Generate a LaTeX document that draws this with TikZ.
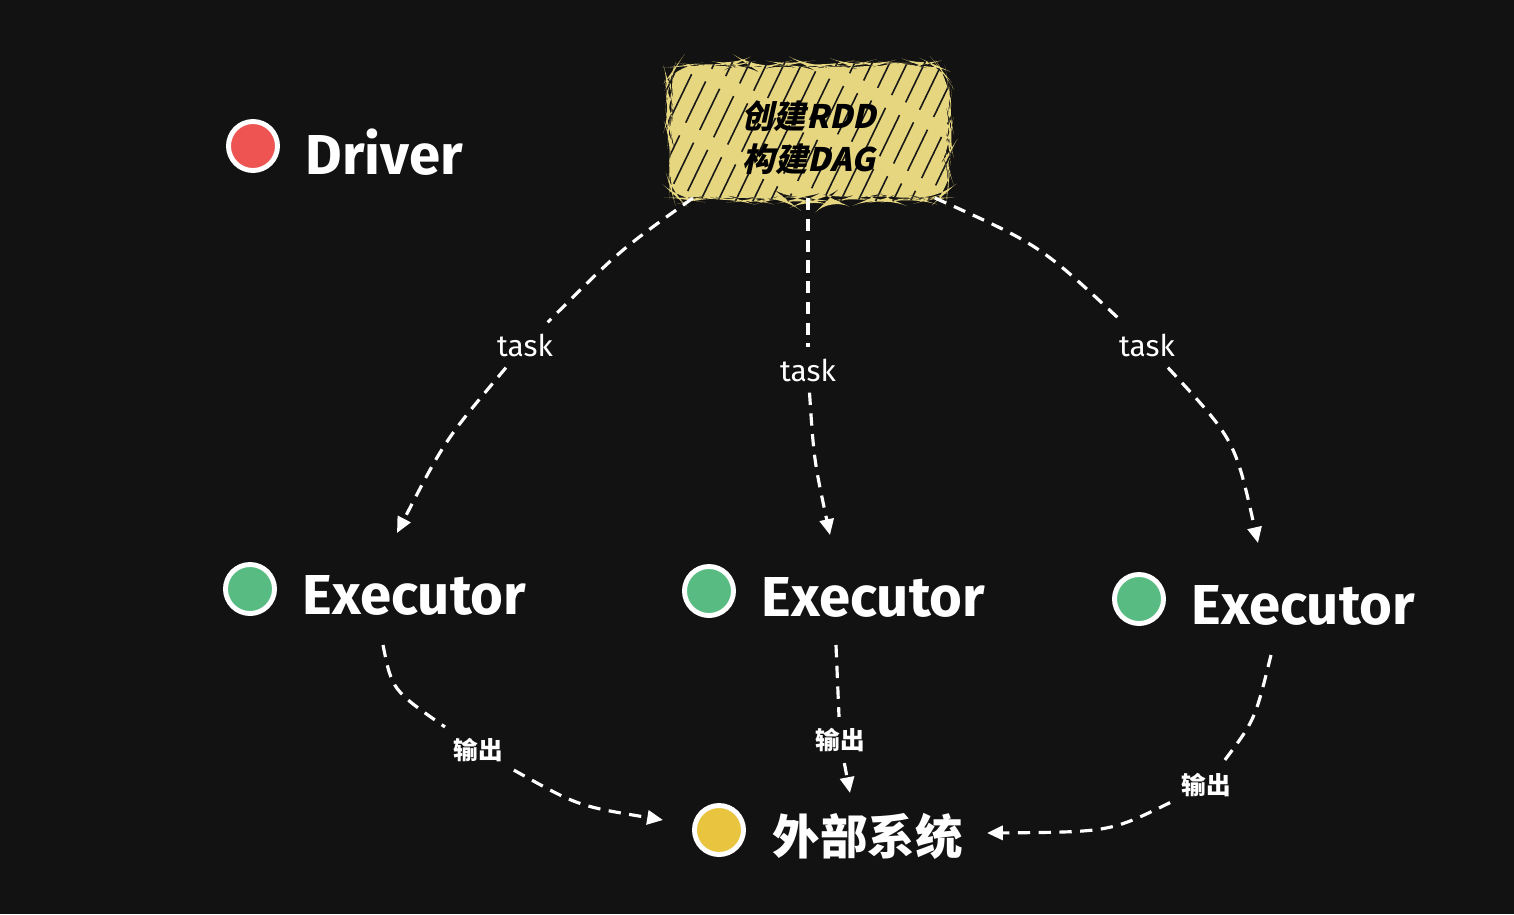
\documentclass[tikz,border=0pt]{standalone}
\usepackage{fontspec}
\setmainfont{Fira Sans}
\newfontfamily\cjk{Noto Sans CJK SC}
\newfontfamily\cjkslant{Noto Sans CJK SC}[FakeSlant=0.22]
\usetikzlibrary{arrows.meta, positioning, decorations.pathmorphing}
\definecolor{bgdark}{HTML}{121212}
\definecolor{drvred}{HTML}{EE5552}
\definecolor{exgreen}{HTML}{58BC82}
\definecolor{extyellow}{HTML}{E8C43F}
\definecolor{boxyellow}{HTML}{E6D680}

\begin{document}
\begin{tikzpicture}[x=0.01cm, y=-0.01cm,
    dot/.style={circle, draw=white, line width=1.4pt, minimum size=0.49cm, inner sep=0pt},
    role/.style={anchor=west, inner sep=0pt, yshift=-0.06cm, text=white, font=\fontsize{16}{19}\selectfont\bfseries},
    dagbox/.style={rectangle, rounded corners=6pt, fill=boxyellow, minimum width=2.78cm, minimum height=1.35cm,
        align=center, text=black, font=\cjkslant\bfseries\fontsize{9.2}{12}\selectfont,
        decorate, decoration={random steps, segment length=2pt, amplitude=0.6pt},
        path picture={\foreach \k in {0,...,20}
            \draw[black!90, line width=0.45pt, dash pattern=on 13pt off 4pt, dash phase=\k*2.3pt]
                ([xshift=\k*1.75mm-0.9cm]path picture bounding box.south west) -- ++(0.7cm,1.45cm);}},
    tag/.style={text=white, inner sep=3pt, font=\fontsize{8.5}{10}\selectfont},
    outtag/.style={tag, font=\cjk\bfseries\fontsize{7}{9}\selectfont},
    flow/.style={white, line width=0.9pt, dash pattern=on 3.5pt off 2.4pt},
    arr/.style={flow, -{Triangle[length=4.5pt, width=4pt]}}]
    \useasboundingbox[fill=bgdark] (0,0) rectangle (1514,914);

    % driver side
    \node [dot, fill=drvred] (drv) at (253,146) {};
    \node [role, right=0.25cm of drv] (drvtxt) {Driver};
    \node [dagbox] (dag) at (809,132) {\rule{0pt}{0.39cm}创建RDD\\构建DAG};

    % executors
    \node [dot, fill=exgreen] (ex1) at (250,589) {};
    \node [role, right=0.25cm of ex1] (ex1txt) {Executor};
    \node [dot, fill=exgreen] (ex2) at (709,591) {};
    \node [role, right=0.25cm of ex2] (ex2txt) {Executor};
    \node [dot, fill=exgreen] (ex3) at (1139,599) {};
    \node [role, right=0.25cm of ex3] (ex3txt) {Executor};

    % external system
    \node [dot, fill=extyellow] (ext) at (719,830) {};
    \node [role, right=0.26cm of ext, font=\cjk\bfseries\fontsize{13.5}{16}\selectfont] (exttxt) {外部系统};

    % labels
    \node [tag] (t1) at (525,345) {task};
    \node [tag] (t2) at (808,370) {task};
    \node [tag] (t3) at (1147,345) {task};
    \node [outtag] (o1) at (478,750) {输出};
    \node [outtag] (o2) at (840,740) {输出};
    \node [outtag] (o3) at (1206,785) {输出};

    \coordinate (a1) at (693,198);
    \coordinate (a2) at (808,198);
    \coordinate (a3) at (935,198);
    \coordinate (e1) at (397,533);
    \coordinate (e2) at (830,535);
    \coordinate (e3) at (1258,543);
    \coordinate (b1) at (383,645);
    \coordinate (b2) at (836,645);
    \coordinate (b3) at (1271,655);
    \coordinate (f1) at (663,820);
    \coordinate (f2) at (850,793);
    \coordinate (f3) at (987,833);

    % tasks
    \draw [flow] (a1) .. controls (620,250) .. (t1);
    \draw [arr] (t1) .. controls (445,440) .. (e1);
    \draw [flow] (a2) -- (t2);
    \draw [arr] (t2) .. controls (814,460) .. (e2);
    \draw [flow] (a3) .. controls (1040,245) .. (t3);
    \draw [arr] (t3) .. controls (1235,440) .. (e3);

    % output
    \draw [flow] (b1) .. controls (392,690) .. (o1);
    \draw [arr] (o1) .. controls (578,806) .. (f1);
    \draw [flow] (b2) -- (o2);
    \draw [arr] (o2) -- (f2);
    \draw [flow] (b3) .. controls (1255,720) .. (o3);
    \draw [arr] (o3) .. controls (1110,832) .. (f3);
\end{tikzpicture}
\end{document}
